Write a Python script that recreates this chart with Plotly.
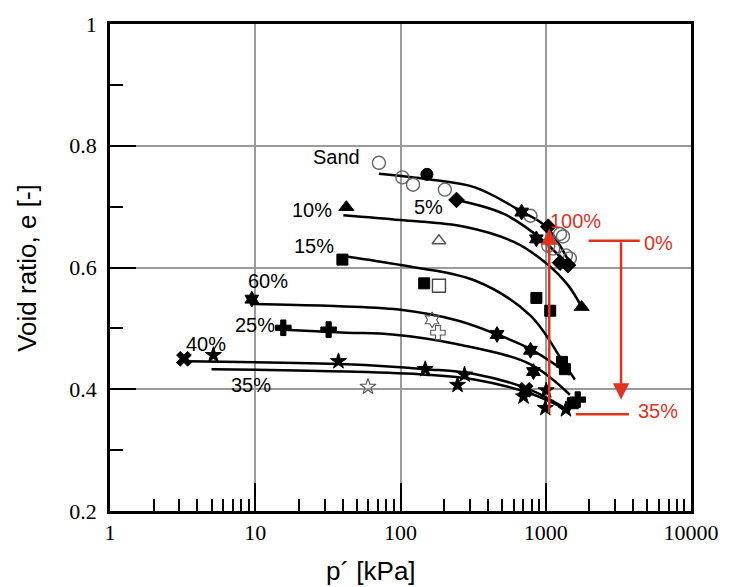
import numpy as np
import plotly.graph_objects as go

# ---------------- data ----------------
# marker series
sand_p = [71, 103, 122, 202, 785, 1254, 1315, 1040, 1125, 1377, 1466]
sand_e = [0.772, 0.748, 0.736, 0.728, 0.685, 0.655, 0.651, 0.636, 0.631, 0.620, 0.615]

f5_circle_p = [152]
f5_circle_e = [0.753]
f5_diamond_p = [243, 1040, 1254, 1422]
f5_diamond_e = [0.711, 0.667, 0.608, 0.604]

f10_p = [42.4, 1767]
f10_e = [0.699, 0.535]
f10_open_p = [184]
f10_open_e = [0.644]

f15_p = [39.8, 145.5, 862, 1073, 1294, 1355, 1536]
f15_e = [0.613, 0.574, 0.550, 0.529, 0.445, 0.433, 0.377]
f15_open_p = [184]
f15_open_e = [0.570]

f60_p = [9.47, 462, 785, 823, 682, 862]
f60_e = [0.548, 0.490, 0.464, 0.429, 0.691, 0.647]
f60_open_p = [165]
f60_open_e = [0.514]

f25_p = [15.6, 32, 1660]
f25_e = [0.501, 0.498, 0.383]
f25_open_p = [181]
f25_open_e = [0.493]

f40_p = [3.23, 726]
f40_e = [0.450, 0.399]

f35_p = [5.15, 37.4, 148, 276, 247, 703, 1007, 993, 1377]
f35_e = [0.456, 0.446, 0.433, 0.424, 0.407, 0.388, 0.398, 0.369, 0.367]
f35_open_p = [59.7]
f35_open_e = [0.404]

# fitted curves
c_sand_p = [71, 155, 322, 671, 1007, 1466]
c_sand_e = [0.754, 0.745, 0.732, 0.693, 0.667, 0.607]
c5_p = [243, 515, 962, 1315]
c5_e = [0.711, 0.688, 0.644, 0.612]
c10_p = [40.4, 100, 276, 603, 1007, 1422, 1750]
c10_e = [0.686, 0.678, 0.667, 0.642, 0.607, 0.571, 0.537]
c15_p = [42.4, 100, 322, 785, 1315, 1586]
c15_e = [0.618, 0.604, 0.579, 0.521, 0.445, 0.416]
c60_p = [9.6, 31, 97, 247, 462, 785, 1466]
c60_e = [0.540, 0.537, 0.531, 0.513, 0.490, 0.466, 0.424]
c25_p = [14.7, 42.4, 88, 247, 785, 1466]
c25_e = [0.498, 0.493, 0.490, 0.474, 0.441, 0.391]
c40_p = [3.33, 42.4, 148, 322, 785, 1466]
c40_e = [0.446, 0.441, 0.433, 0.425, 0.399, 0.364]
c35_p = [5.0, 42.4, 148, 322, 785, 1466]
c35_e = [0.433, 0.429, 0.424, 0.416, 0.393, 0.364]

# curve labels
label_text = ["Sand", "5%", "10%", "15%", "60%", "25%", "40%", "35%"]
label_p = [36.3, 155, 24.5, 25.3, 12.2, 9.9, 4.6, 9.3]
label_e = [0.782, 0.699, 0.694, 0.636, 0.578, 0.506, 0.474, 0.407]

# red annotation (fines content trend)
red_text = ["100%", "0%", "35%"]
red_p = [1610, 5975, 5880]
red_e = [0.676, 0.641, 0.365]

x_tickvals = [1, 10, 100, 1000, 10000]
x_ticktext = ["1", "10", "100", "1000", "10000"]
y_tickvals = [0.2, 0.4, 0.6, 0.8, 1.0]
y_ticktext = ["0.2", "0.4", "0.6", "0.8", "1"]

# ---------------- figure ----------------
RED = "#e2311f"
SANS = "Liberation Sans, Arial"
SERIF = "Liberation Serif, Times New Roman"
fig = go.Figure()

curves = [(c_sand_p, c_sand_e), (c5_p, c5_e), (c10_p, c10_e), (c15_p, c15_e),
          (c60_p, c60_e), (c25_p, c25_e), (c40_p, c40_e), (c35_p, c35_e)]
for cp, ce in curves:
    fig.add_trace(go.Scatter(x=cp, y=ce, mode="lines",
                             line=dict(color="black", width=2.5, shape="spline", smoothing=1.0),
                             hoverinfo="skip", showlegend=False))


def mk(px, pe, symbol, size=12, color="black", lw=1.0, lcolor="black"):
    fig.add_trace(go.Scatter(x=px, y=pe, mode="markers",
                             marker=dict(symbol=symbol, size=size, color=color,
                                         line=dict(color=lcolor, width=lw)),
                             showlegend=False))


mk(sand_p, sand_e, "circle-open", size=13, color="#666", lw=1.4)
mk(f5_circle_p, f5_circle_e, "circle", size=12)
mk(f5_diamond_p, f5_diamond_e, "diamond", size=12)
mk(f10_p, f10_e, "triangle-up", size=13)
mk(f10_open_p, f10_open_e, "triangle-up-open", size=12, color="#555", lw=1.4)
mk(f15_p, f15_e, "square", size=11)
mk(f15_open_p, f15_open_e, "square-open", size=13, color="#444", lw=1.4)
mk(f60_p, f60_e, "hexagram", size=12)
mk(f60_open_p, f60_open_e, "hexagram-open", size=12, color="#555", lw=1.1)
mk(f25_p, f25_e, "cross", size=13)
mk(f25_open_p, f25_open_e, "cross-open", size=12, color="#555", lw=1.1)
mk(f40_p, f40_e, "x", size=13)
mk(f35_p, f35_e, "star", size=12)
mk(f35_open_p, f35_open_e, "star-open", size=12, color="#555", lw=1.1)

# red bracket lines
fig.add_trace(go.Scatter(x=[1972, 4440], y=[0.644, 0.644], mode="lines", line=dict(color=RED, width=2.5),
                         hoverinfo="skip", showlegend=False))
fig.add_trace(go.Scatter(x=[1610, 3741], y=[0.359, 0.359], mode="lines", line=dict(color=RED, width=2.5),
                         hoverinfo="skip", showlegend=False))

annotations = []
for t, p, e in zip(label_text, label_p, label_e):
    annotations.append(dict(x=np.log10(p), y=e, xref="x", yref="y", text=t, showarrow=False,
                            font=dict(family=SANS, size=20, color="black")))
for t, p, e in zip(red_text, red_p, red_e):
    annotations.append(dict(x=np.log10(p), y=e, xref="x", yref="y", text=t, showarrow=False,
                            font=dict(family=SANS, size=20, color=RED)))
# arrows
annotations.append(dict(x=np.log10(1057), y=0.664, ax=np.log10(1057), ay=0.359, xref="x", yref="y",
                        axref="x", ayref="y", text="", showarrow=True, arrowhead=2, arrowsize=1.3,
                        arrowwidth=2.5, arrowcolor=RED))
annotations.append(dict(x=np.log10(3300), y=0.383, ax=np.log10(3300), ay=0.644, xref="x", yref="y",
                        axref="x", ayref="y", text="", showarrow=True, arrowhead=2, arrowsize=1.3,
                        arrowwidth=2.5, arrowcolor=RED))
# axis titles
annotations.append(dict(x=0.449, y=-0.124, xref="paper", yref="paper", text="p´ [kPa]", showarrow=False,
                        xanchor="center", yanchor="middle",
                        font=dict(family=SANS, size=26, color="black")))
annotations.append(dict(x=-0.144, y=0.5, xref="paper", yref="paper", text="Void ratio, e [-]",
                        showarrow=False, textangle=-90, xanchor="center", yanchor="middle",
                        font=dict(family=SANS, size=26, color="black")))

fig.update_layout(
    width=731, height=587,
    margin=dict(l=110, r=31, t=17, b=76),
    paper_bgcolor="white", plot_bgcolor="white",
    showlegend=False,
    annotations=annotations,
    xaxis=dict(type="log", range=[0, 4], tickvals=x_tickvals, ticktext=x_ticktext,
               ticks="inside", ticklen=28, tickwidth=2, tickcolor="black",
               showgrid=True, gridcolor="#9a9a9a", gridwidth=1.5,
               showline=True, linecolor="black", linewidth=2.5, mirror=True,
               tickfont=dict(family=SERIF, size=22, color="black"),
               minor=dict(ticks="inside", ticklen=12, tickwidth=2, tickcolor="black", dtick="D1", showgrid=False),
               zeroline=False),
    yaxis=dict(range=[0.2, 1.0], tickvals=y_tickvals, ticktext=y_ticktext,
               ticks="inside", ticklen=26, tickwidth=2, tickcolor="black",
               showgrid=True, gridcolor="#9a9a9a", gridwidth=1.5,
               showline=True, linecolor="black", linewidth=2.5, mirror=True,
               ticklabelstandoff=6,
               tickfont=dict(family=SERIF, size=22, color="black"),
               minor=dict(ticks="inside", ticklen=13, tickwidth=2, tickcolor="black", dtick=0.1, showgrid=False),
               zeroline=False),
)

fig.write_html("out.html")
